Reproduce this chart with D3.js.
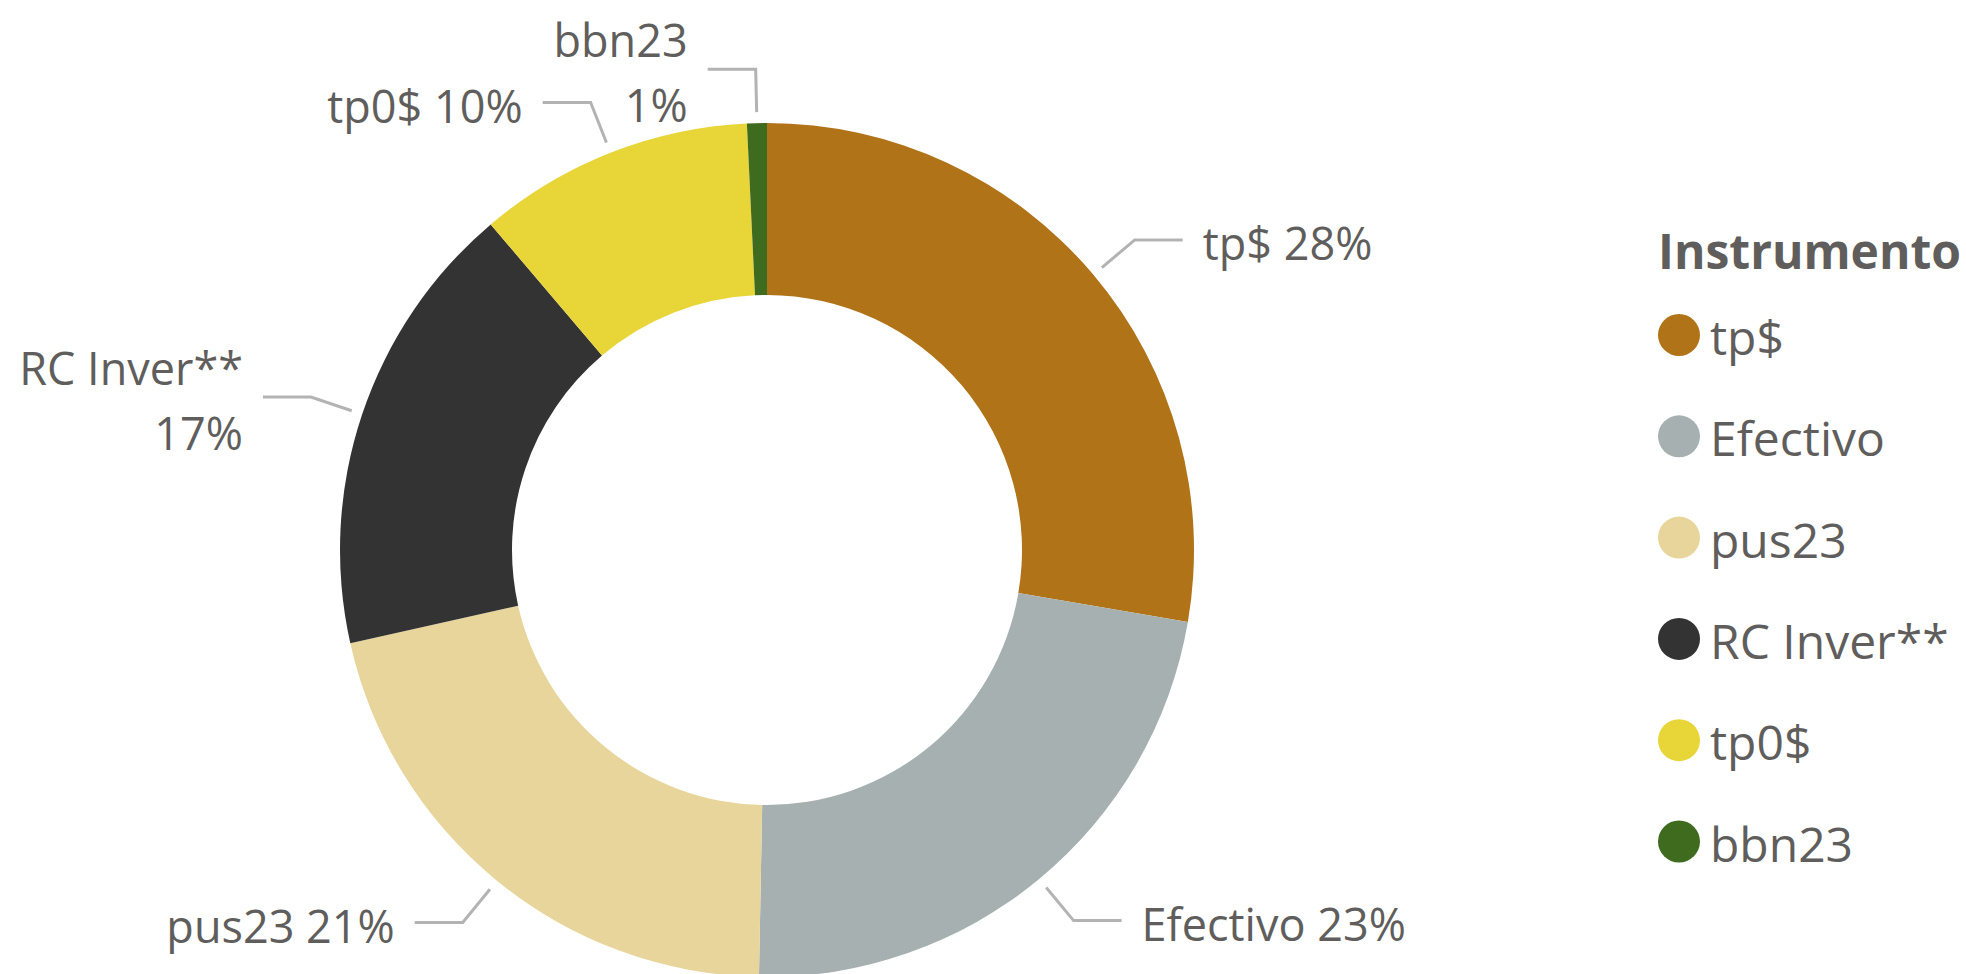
<!DOCTYPE html>
<html>
<head>
<meta charset="utf-8">
<script src="https://cdn.jsdelivr.net/npm/d3@7"></script>
<style>
  body { margin: 0; background: #fff; }
  text { font-family: "Segoe UI", "Open Sans", sans-serif; fill: #605E5C; }
</style>
</head>
<body>
<div id="chart"></div>
<script>
// data (share of portfolio, %)
const categories = ["tp$", "Efectivo", "pus23", "RC Inver**", "tp0$", "bbn23"];
const values = [27.7, 22.6, 21.2, 17.3, 10.45, 0.75];
const colors = ["#B07318", "#A6B0B1", "#E8D59B", "#333333", "#E8D538", "#3E6B1E"];
// labels that wrap onto two lines
const labelLines = [
  ["tp$ 28%"],
  ["Efectivo 23%"],
  ["pus23 21%"],
  ["RC Inver**", "17%"],
  ["tp0$ 10%"],
  ["bbn23", "1%"]
];
const legendTitle = "Instrumento";

const width = 1966, height = 974;
const cx = 767, cy = 550;
const outerR = 427, innerR = 255;

const svg = d3.select("#chart").append("svg")
  .attr("width", width)
  .attr("height", height);

const data = categories.map((c, i) => ({ name: c, value: values[i], color: colors[i], lines: labelLines[i] }));

const pie = d3.pie().sort(null).value(d => d.value);
const arcs = pie(data);

const arc = d3.arc().innerRadius(innerR).outerRadius(outerR);

const g = svg.append("g").attr("transform", `translate(${cx},${cy})`);

g.selectAll("path.slice")
  .data(arcs)
  .join("path")
  .attr("class", "slice")
  .attr("d", arc)
  .attr("fill", d => d.data.color);

// leader lines + labels
const startArc = d3.arc().innerRadius(outerR + 11).outerRadius(outerR + 11);
const elbowArc = d3.arc().innerRadius(outerR + 54).outerRadius(outerR + 54);

arcs.forEach(d => {
  const p0 = startArc.centroid(d);
  const p1 = elbowArc.centroid(d);
  const mid = (d.startAngle + d.endAngle) / 2;
  const right = mid < Math.PI;
  const p2 = [p1[0] + (right ? 48 : -48), p1[1]];

  g.append("polyline")
    .attr("points", [p0, p1, p2].map(p => p.join(",")).join(" "))
    .attr("fill", "none")
    .attr("stroke", "#B3B3B3")
    .attr("stroke-width", 3);

  const t = g.append("text")
    .attr("text-anchor", right ? "start" : "end")
    .style("font-size", "45px");

  const tx = p2[0] + (right ? 20 : -20);
  if (d.data.lines.length === 1) {
    t.append("tspan").attr("x", tx).attr("y", p2[1] + 20).text(d.data.lines[0]);
  } else {
    t.append("tspan").attr("x", tx).attr("y", p2[1] - 12).text(d.data.lines[0]);
    t.append("tspan").attr("x", tx).attr("y", p2[1] + 53).text(d.data.lines[1]);
  }
});

// legend
const legend = svg.append("g").attr("transform", "translate(1658,0)");

legend.append("text")
  .attr("x", 0)
  .attr("y", 269)
  .style("font-size", "48px")
  .style("font-weight", "bold")
  .text(legendTitle);

const item = legend.selectAll("g.item")
  .data(data)
  .join("g")
  .attr("class", "item")
  .attr("transform", (d, i) => `translate(0,${335 + i * 101.3})`);

item.append("circle")
  .attr("cx", 21)
  .attr("cy", 0)
  .attr("r", 21)
  .attr("fill", d => d.color);

item.append("text")
  .attr("x", 52)
  .attr("y", 20)
  .style("font-size", "48px")
  .text(d => d.name);
</script>
</body>
</html>
